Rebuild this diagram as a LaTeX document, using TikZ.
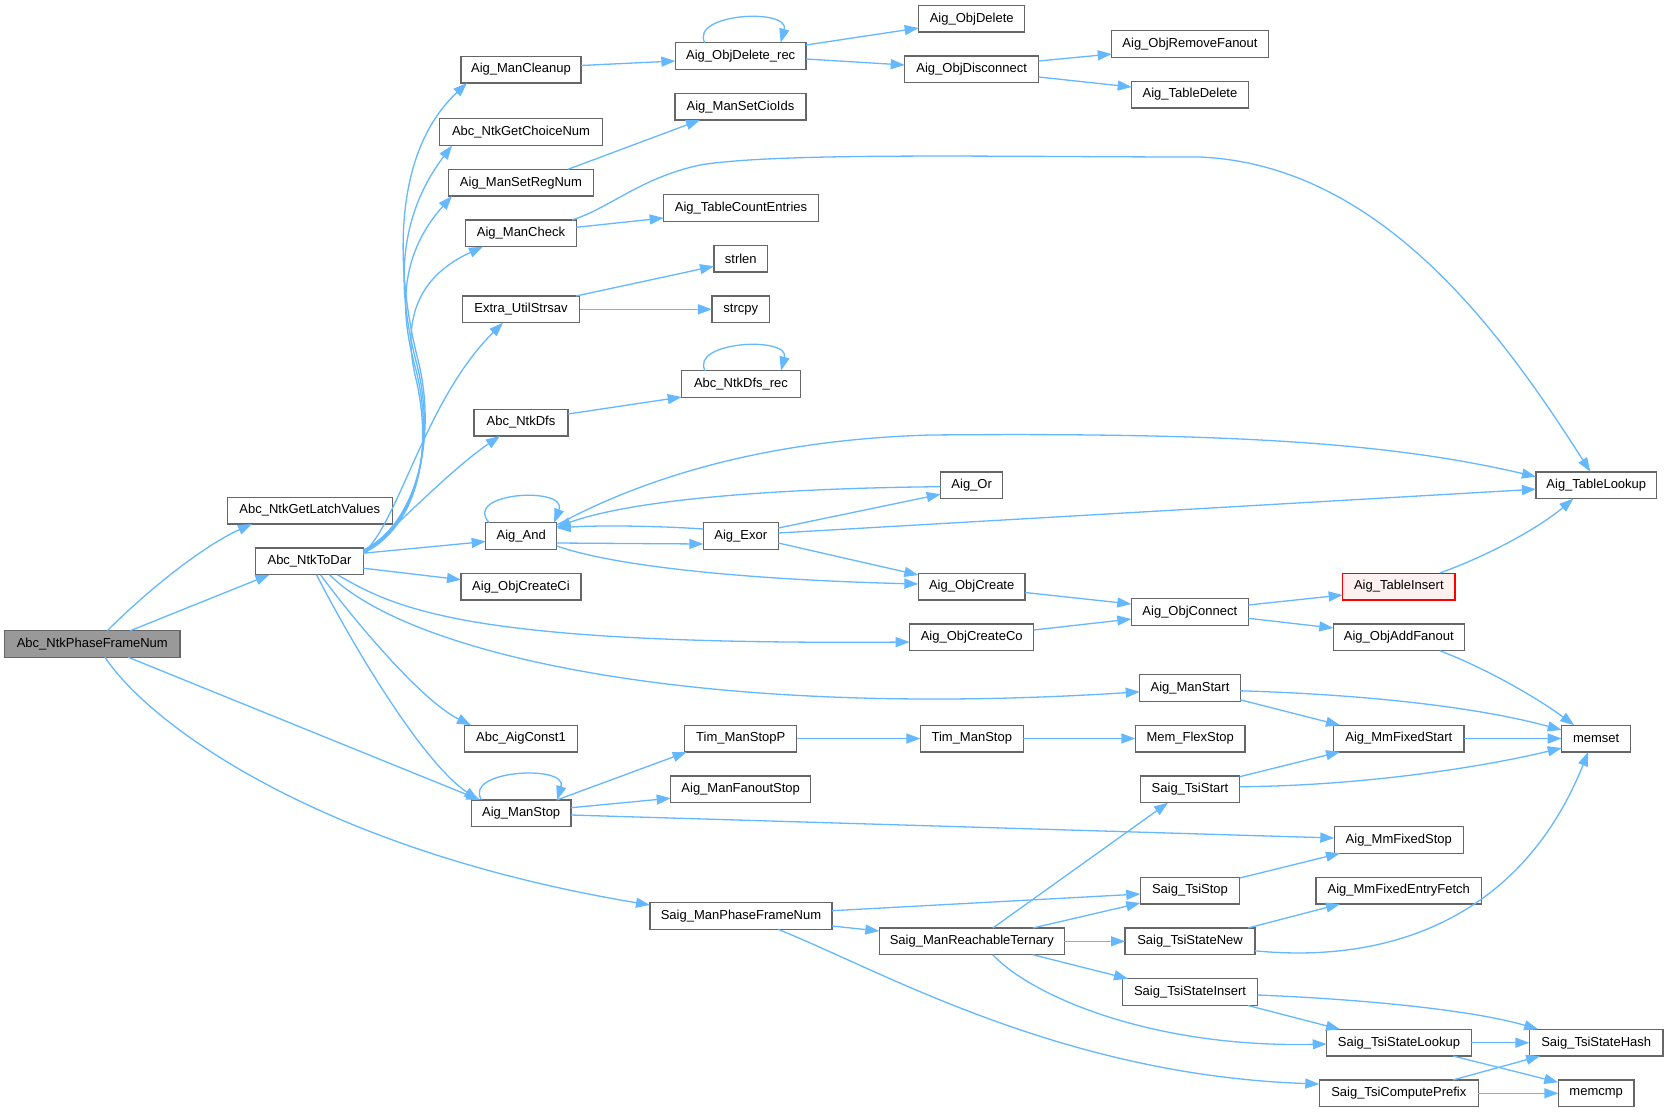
\documentclass[tikz,border=0pt]{standalone}
\usepackage{fontspec}
\setmainfont{Liberation Sans}
\usetikzlibrary{arrows.meta,calc}
\definecolor{edgec}{HTML}{63B8FF}
\definecolor{bordc}{HTML}{666666}
\definecolor{curfill}{HTML}{999999}
\definecolor{redfill}{HTML}{FFF0F0}
\begin{document}
\begin{tikzpicture}[x=1pt,y=-1pt,
  fn/.style={draw=bordc, fill=white, line width=1.3pt, minimum height=26.7pt, inner sep=0pt, outer sep=0pt, font=\fontsize{13}{15}\selectfont, text=black},
  cur/.style={fn, fill=curfill},
  trunc/.style={fn, draw=red, fill=redfill},
  arr/.style={draw=edgec, line width=1.3pt, -{Triangle[length=14pt,width=10pt]}},
]
\useasboundingbox (0,0) rectangle (1668,1112);
\fill[white] (0,0) rectangle (1668,1112);

% nodes
\node[cur, minimum width=175.3pt] (PFN) at (92.3,644) {Abc\_NtkPhaseFrameNum};
\node[fn, minimum width=165pt] (LV) at (309.8,510.5) {Abc\_NtkGetLatchValues};
\node[fn, minimum width=107.6pt] (ToDar) at (309.5,561.2) {Abc\_NtkToDar};
\node[fn, minimum width=120pt] (Cleanup) at (521,69.5) {Aig\_ManCleanup};
\node[fn, minimum width=162.6pt] (ChoiceNum) at (521,132) {Abc\_NtkGetChoiceNum};
\node[fn, minimum width=144.6pt] (RegNum) at (521,182.7) {Aig\_ManSetRegNum};
\node[fn, minimum width=110.6pt] (Check) at (521,233.3) {Aig\_ManCheck};
\node[fn, minimum width=117.4pt] (Strsav) at (521,309.3) {Extra\_UtilStrsav};
\node[fn, minimum width=94pt] (Dfs) at (521,422.5) {Abc\_NtkDfs};
\node[fn, minimum width=71pt] (And) at (521.2,536) {Aig\_And};
\node[fn, minimum width=120pt] (CreateCi) at (521,586.7) {Aig\_ObjCreateCi};
\node[fn, minimum width=113.4pt] (Const1) at (521,738.5) {Abc\_AigConst1};
\node[fn, minimum width=99.7pt] (ManStop) at (521.2,813.3) {Aig\_ManStop};
\node[fn, minimum width=182pt] (SaigPFN) at (741,916) {Saig\_ManPhaseFrameNum};
\node[fn, minimum width=130.7pt] (DelRec) at (740.7,56) {Aig\_ObjDelete\_rec};
\node[fn, minimum width=131pt] (CioIds) at (740.5,106.7) {Aig\_ManSetCioIds};
\node[fn, minimum width=154.6pt] (CountEntries) at (741,208) {Aig\_TableCountEntries};
\node[fn, minimum width=53.7pt] (strlen) at (740.8,258.7) {strlen};
\node[fn, minimum width=57.7pt] (strcpy) at (740.8,309.3) {strcpy};
\node[fn, minimum width=118.6pt] (DfsRec) at (741,384) {Abc\_NtkDfs\_rec};
\node[fn, minimum width=75pt] (Exor) at (740.8,536) {Aig\_Exor};
\node[fn, minimum width=112pt] (StopP) at (740.7,738.5) {Tim\_ManStopP};
\node[fn, minimum width=140pt] (FanoutStop) at (740.7,789.2) {Aig\_ManFanoutStop};
\node[fn, minimum width=106pt] (ObjDelete) at (971.7,18.7) {Aig\_ObjDelete};
\node[fn, minimum width=134pt] (Disconnect) at (971.7,69.3) {Aig\_ObjDisconnect};
\node[fn, minimum width=62pt] (Or) at (971.7,485.2) {Aig\_Or};
\node[fn, minimum width=106.7pt] (ObjCreate) at (971.7,586.5) {Aig\_ObjCreate};
\node[fn, minimum width=124pt] (CreateCo) at (971.7,637.2) {Aig\_ObjCreateCo};
\node[fn, minimum width=103pt] (TimStop) at (971.8,738.5) {Tim\_ManStop};
\node[fn, minimum width=185pt] (Reach) at (971.8,941.3) {Saig\_ManReachableTernary};
\node[fn, minimum width=156.6pt] (RemoveFanout) at (1190,44) {Aig\_ObjRemoveFanout};
\node[fn, minimum width=116.6pt] (TableDelete) at (1190,94.5) {Aig\_TableDelete};
\node[fn, minimum width=117pt] (Connect) at (1189.8,611.8) {Aig\_ObjConnect};
\node[fn, minimum width=100.6pt] (ManStart) at (1190,687.8) {Aig\_ManStart};
\node[fn, minimum width=109.7pt] (FlexStop) at (1190.2,738.5) {Mem\_FlexStop};
\node[fn, minimum width=99.4pt] (TsiStart) at (1190,789.2) {Saig\_TsiStart};
\node[fn, minimum width=99.4pt] (TsiStop) at (1190,890.5) {Saig\_TsiStop};
\node[fn, minimum width=130pt] (StateNew) at (1190,941.3) {Saig\_TsiStateNew};
\node[fn, minimum width=135.4pt] (StateInsert) at (1190,992) {Saig\_TsiStateInsert};
\node[trunc, minimum width=112.3pt] (TableInsert) at (1398.8,586.5) {Aig\_TableInsert};
\node[fn, minimum width=131pt] (AddFanout) at (1398.8,637.2) {Aig\_ObjAddFanout};
\node[fn, minimum width=130.3pt] (MmStart) at (1398.8,738.5) {Aig\_MmFixedStart};
\node[fn, minimum width=129pt] (MmStop) at (1398.8,840) {Aig\_MmFixedStop};
\node[fn, minimum width=165.7pt] (EntryFetch) at (1398.8,890.5) {Aig\_MmFixedEntryFetch};
\node[fn, minimum width=144.6pt] (StateLookup) at (1399,1042.7) {Saig\_TsiStateLookup};
\node[fn, minimum width=159pt] (ComputePrefix) at (1398.8,1093.3) {Saig\_TsiComputePrefix};
\node[fn, minimum width=120.7pt] (TableLookup) at (1596.3,485.2) {Aig\_TableLookup};
\node[fn, minimum width=69pt] (memset) at (1596.2,738.5) {memset};
\node[fn, minimum width=133.7pt] (StateHash) at (1596.2,1042.7) {Saig\_TsiStateHash};
\node[fn, minimum width=75.7pt] (memcmp) at (1596.2,1093.3) {memcmp};

% edges from Abc_NtkPhaseFrameNum
\draw[arr] ($(PFN.center)+(15,-13.3)$) .. controls (150,588) and (205,545) .. ($(LV.center)+(-57.8,13.5)$);
\draw[arr] ($(PFN.center)+(38,-13.3)$) -- ($(ToDar.center)+(-40,13.5)$);
\draw[arr] ($(PFN.center)+(36,13.3)$) -- ($(ManStop.center)+(-41,-13.3)$);
\draw[arr] ($(PFN.center)+(12.7,13.3)$) .. controls (150,725) and (320,850) .. ($(SaigPFN.center)+(-91,-11)$);

% edges from Abc_NtkToDar
\draw[arr] ($(ToDar.center)+(53.8,-11)$) .. controls (415,525) and (438,440) .. (418,360) .. controls (400,290) and (385,160) .. ($(Cleanup.center)+(-54,13.5)$);
\draw[arr] ($(ToDar.center)+(53.8,-10)$) .. controls (415,526) and (437,445) .. (417,365) .. controls (400,300) and (392,225) .. ($(ChoiceNum.center)+(-69,13.5)$);
\draw[arr] ($(ToDar.center)+(53.8,-9)$) .. controls (415,527) and (436,450) .. (416,370) .. controls (402,320) and (395,260) .. ($(RegNum.center)+(-69,13.3)$);
\draw[arr] ($(ToDar.center)+(53.8,-8)$) .. controls (415,528) and (435,455) .. (415,375) .. controls (405,330) and (410,280) .. ($(Check.center)+(-38,13.4)$);
\draw[arr] ($(ToDar.center)+(53.8,-8)$) .. controls (400,520) and (425,400) .. ($(Strsav.center)+(-18,13.4)$);
\draw[arr] ($(ToDar.center)+(53.8,-7)$) .. controls (395,528) and (450,470) .. ($(Dfs.center)+(-21,13.5)$);
\draw[arr] ($(ToDar.center)+(53.8,-8)$) -- ($(And.center)+(-35.5,5.5)$);
\draw[arr] ($(ToDar.center)+(53.8,7)$) -- ($(CreateCi.center)+(-60,-7)$);
\draw[arr] ($(ToDar.center)+(28,13.5)$) .. controls (400,612) and (480,645) .. ($(CreateCo.center)+(-62,4.8)$);
\draw[arr] ($(ToDar.center)+(20,13.5)$) .. controls (410,655) and (700,720) .. ($(ManStart.center)+(-50.3,4)$);
\draw[arr] ($(ToDar.center)+(11,13.5)$) .. controls (350,615) and (420,700) .. ($(Const1.center)+(-50,-13.3)$);
\draw[arr] ($(ToDar.center)+(7,13.5)$) .. controls (350,640) and (420,760) .. ($(ManStop.center)+(-43,-13.3)$);

% top region
\draw[arr] ($(Cleanup.center)+(60,-4)$) -- ($(DelRec.center)+(-65.35,5)$);
\draw[arr] ($(DelRec.center)+(-36,-13.3)$) .. controls (690,13) and (790,8) .. ($(DelRec.center)+(40,-13.3)$);
\draw[arr] ($(DelRec.center)+(65.35,-11)$) -- ($(ObjDelete.center)+(-53,9.3)$);
\draw[arr] ($(DelRec.center)+(65.35,3)$) -- ($(Disconnect.center)+(-67,-4.3)$);
\draw[arr] ($(Disconnect.center)+(67,-8.3)$) -- ($(RemoveFanout.center)+(-78.3,10)$);
\draw[arr] ($(Disconnect.center)+(67,7.7)$) -- ($(TableDelete.center)+(-58.3,-7.5)$);
\draw[arr] ($(RegNum.center)+(47,-13.4)$) -- ($(CioIds.center)+(-40.5,13.3)$);
\draw[arr] ($(Check.center)+(55.3,-6)$) -- ($(CountEntries.center)+(-77.3,10)$);
\draw[arr] ($(Check.center)+(51,-13.3)$) .. controls (610,208) and (640,178) .. (700,165) .. controls (780,152) and (1000,157) .. (1200,157) .. controls (1380,165) and (1500,330) .. ($(TableLookup.center)+(-6,-13.5)$);
\draw[arr] ($(Strsav.center)+(55,-13.3)$) -- ($(strlen.center)+(-26.8,7.5)$);
\draw[arr] (Strsav.east) -- (strcpy.west);
\draw[arr] ($(Dfs.center)+(47,-8.5)$) -- ($(DfsRec.center)+(-59.3,13)$);
\draw[arr] ($(DfsRec.center)+(-36,-13.3)$) .. controls (690,341) and (790,336) .. ($(DfsRec.center)+(40,-13.3)$);

% And / Exor / Or
\draw[arr] ($(And.center)+(-32,-13.3)$) .. controls (462,492) and (568,486) .. ($(And.center)+(33,-13.3)$);
\draw[arr] ($(And.center)+(35.5,7)$) -- ($(Exor.center)+(-37.5,8)$);
\draw[arr] ($(Exor.center)+(-37.5,-7)$) .. controls (660,526) and (600,525) .. ($(And.center)+(35.5,-8)$);
\draw[arr] ($(Or.center)+(-31,1.5)$) .. controls (800,488) and (640,497) .. ($(And.center)+(35.5,-9)$);
\draw[arr] ($(Exor.center)+(37.5,-8)$) -- ($(Or.center)+(-31,9)$);
\draw[arr] ($(Exor.center)+(37.5,-3)$) -- ($(TableLookup.center)+(-60.35,4)$);
\draw[arr] ($(And.center)+(35.5,-11)$) .. controls (640,480) and (760,440) .. (930,435) .. controls (1250,432) and (1400,445) .. ($(TableLookup.center)+(-60.35,-8.5)$);
\draw[arr] ($(And.center)+(35.5,10)$) .. controls (620,568) and (760,580) .. ($(ObjCreate.center)+(-53.35,-2.5)$);
\draw[arr] ($(Exor.center)+(37.5,7)$) -- ($(ObjCreate.center)+(-53.35,-11.5)$);
\draw[arr] ($(ObjCreate.center)+(53.35,6)$) -- ($(Connect.center)+(-58.5,-7.8)$);
\draw[arr] ($(CreateCo.center)+(62,-7.2)$) -- ($(Connect.center)+(-58.5,7.2)$);
\draw[arr] ($(Connect.center)+(58.5,-6.8)$) -- ($(TableInsert.center)+(-56.15,8.5)$);
\draw[arr] ($(Connect.center)+(58.5,6.5)$) -- ($(AddFanout.center)+(-65.5,-9.2)$);
\draw[arr] ($(TableInsert.center)+(41,-13.5)$) .. controls (1490,555) and (1540,527) .. ($(TableLookup.center)+(-23,13.5)$);
\draw[arr] ($(AddFanout.center)+(41,13.5)$) .. controls (1490,670) and (1540,700) .. ($(memset.center)+(-22,-13.3)$);
\draw[arr] ($(ManStart.center)+(50.3,3)$) .. controls (1350,694) and (1470,705) .. ($(memset.center)+(-34.5,-8.5)$);
\draw[arr] ($(ManStart.center)+(50.3,12)$) -- ($(MmStart.center)+(-58.8,-13.3)$);
\draw[arr] (MmStart.east) -- (memset.west);
\draw[arr] ($(TsiStart.center)+(49.7,-12.5)$) -- ($(MmStart.center)+(-58.8,13.3)$);
\draw[arr] ($(TsiStart.center)+(49.7,-2.5)$) .. controls (1350,786) and (1470,770) .. ($(memset.center)+(-34.5,9.5)$);

% Aig_ManStop
\draw[arr] ($(ManStop.center)+(-39.5,-13.3)$) .. controls (462,770) and (568,764) .. ($(ManStop.center)+(36,-13.3)$);
\draw[arr] ($(ManStop.center)+(35.5,-13.3)$) -- ($(StopP.center)+(-54,13.5)$);
\draw[arr] ($(ManStop.center)+(49.85,-5.6)$) -- ($(FanoutStop.center)+(-70,9)$);
\draw[arr] ($(ManStop.center)+(49.85,1.7)$) -- ($(MmStop.center)+(-64.5,-2)$);
\draw[arr] (StopP.east) -- (TimStop.west);
\draw[arr] (TimStop.east) -- (FlexStop.west);

% Saig part
\draw[arr] ($(SaigPFN.center)+(91,-5.3)$) -- ($(TsiStop.center)+(-49.7,3.5)$);
\draw[arr] ($(SaigPFN.center)+(91,10)$) -- ($(Reach.center)+(-92.5,-10.3)$);
\draw[arr] ($(SaigPFN.center)+(37,13.3)$) .. controls (880,970) and (1060,1075) .. ($(ComputePrefix.center)+(-79.5,-9.3)$);
\draw[arr] ($(Reach.center)+(21,-13.3)$) -- ($(TsiStart.center)+(-22,13.5)$);
\draw[arr] ($(Reach.center)+(61,-13.3)$) -- ($(TsiStop.center)+(-49.7,12.5)$);
\draw[arr] (Reach.east) -- (StateNew.west);
\draw[arr] ($(Reach.center)+(61,13.4)$) -- ($(StateInsert.center)+(-62,-13.3)$);
\draw[arr] ($(Reach.center)+(21,13.4)$) .. controls (1030,995) and (1150,1048) .. ($(StateLookup.center)+(-72.3,1.3)$);
\draw[arr] ($(TsiStop.center)+(49.7,-12.5)$) -- ($(MmStop.center)+(-58.8,13.3)$);
\draw[arr] ($(StateNew.center)+(58,-13.3)$) -- ($(EntryFetch.center)+(-58.8,13.5)$);
\draw[arr] ($(StateNew.center)+(65,9.5)$) .. controls (1400,965) and (1525,910) .. ($(memset.center)+(-8,13.5)$);
\draw[arr] ($(StateInsert.center)+(67.7,3)$) .. controls (1380,1000) and (1480,1012) .. ($(StateHash.center)+(-58,-13.4)$);
\draw[arr] ($(StateInsert.center)+(58,13.5)$) -- ($(StateLookup.center)+(-59,-13.4)$);
\draw[arr] (StateLookup.east) -- (StateHash.west);
\draw[arr] ($(StateLookup.center)+(54,13.3)$) -- ($(memcmp.center)+(-37.9,-11)$);
\draw[arr] ($(ComputePrefix.center)+(54,-13.3)$) -- ($(StateHash.center)+(-56,13.3)$);
\draw[arr] (ComputePrefix.east) -- (memcmp.west);
\end{tikzpicture}
\end{document}
